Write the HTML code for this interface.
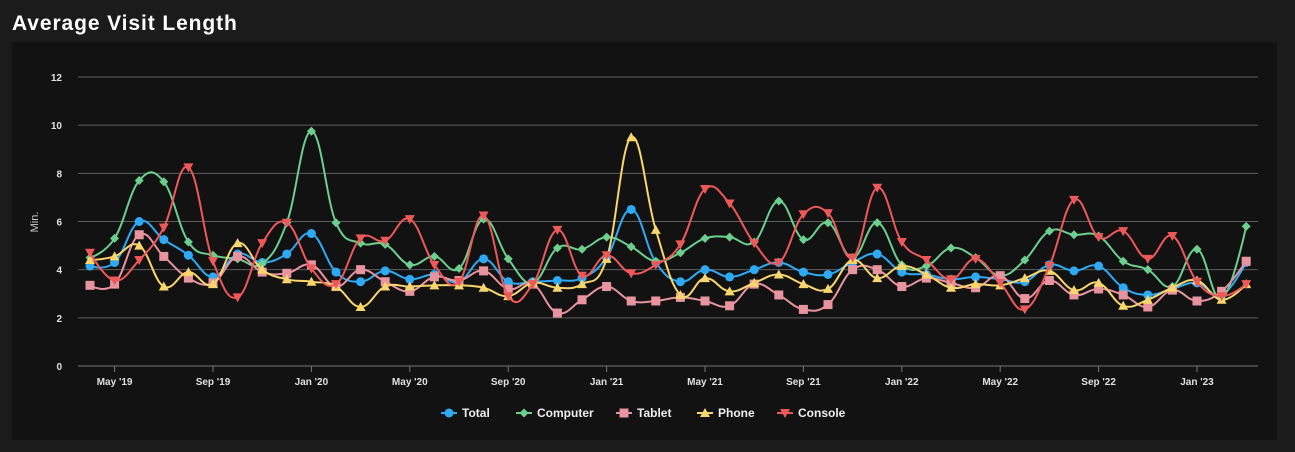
<!DOCTYPE html>
<html><head><meta charset="utf-8"><style>
body{margin:0;background:#1b1b1b;width:1295px;height:452px;overflow:hidden;font-family:"Liberation Sans",sans-serif}
h1{position:absolute;left:12px;top:12px;margin:0;color:#fff;font-size:21px;font-weight:bold;letter-spacing:0.9px}
#panel{position:absolute;left:12px;top:42px;width:1265px;height:398px;background:#121212}
svg{position:absolute;left:0;top:0}
</style></head><body>
<h1>Average Visit Length</h1>
<div id="panel"></div>
<svg id="chart" width="1295" height="452"></svg>
<script>
const months=['Apr 19','May 19','Jun 19','Jul 19','Aug 19','Sep 19','Oct 19','Nov 19','Dec 19','Jan 20','Feb 20','Mar 20','Apr 20','May 20','Jun 20','Jul 20','Aug 20','Sep 20','Oct 20','Nov 20','Dec 20','Jan 21','Feb 21','Mar 21','Apr 21','May 21','Jun 21','Jul 21','Aug 21','Sep 21','Oct 21','Nov 21','Dec 21','Jan 22','Feb 22','Mar 22','Apr 22','May 22','Jun 22','Jul 22','Aug 22','Sep 22','Oct 22','Nov 22','Dec 22','Jan 23','Feb 23','Mar 23'];
const xTickLabels=["May '19","Sep '19","Jan '20","May '20","Sep '20","Jan '21","May '21","Sep '21","Jan '22","May '22","Sep '22","Jan '23"];
const xTickIdx=[1,5,9,13,17,21,25,29,33,37,41,45];
const yTicks=[0,2,4,6,8,10,12];
const total=[4.15,4.3,6.0,5.25,4.6,3.7,4.65,4.3,4.65,5.5,3.9,3.5,3.95,3.6,3.8,3.5,4.45,3.5,3.5,3.55,3.65,4.5,6.5,4.3,3.5,4.0,3.7,4.0,4.3,3.9,3.8,4.3,4.65,3.9,3.8,3.6,3.7,3.6,3.5,4.2,3.95,4.15,3.25,2.95,3.2,3.45,2.95,4.3];
const computer=[4.5,5.3,7.7,7.65,5.15,4.6,4.45,4.25,5.95,9.75,5.95,5.1,5.05,4.2,4.55,4.05,6.1,4.45,3.45,4.9,4.85,5.35,4.95,4.35,4.7,5.3,5.35,5.15,6.85,5.25,5.95,4.5,5.95,4.2,4.15,4.9,4.5,3.75,4.4,5.6,5.45,5.4,4.35,4.0,3.3,4.85,2.8,5.8];
const tablet=[3.35,3.4,5.45,4.55,3.65,3.45,4.55,3.9,3.85,4.2,3.3,4.0,3.5,3.1,3.7,3.55,3.95,3.2,3.4,2.2,2.75,3.3,2.7,2.7,2.85,2.7,2.5,3.4,2.95,2.35,2.55,4.0,4.0,3.3,3.65,3.45,3.25,3.75,2.8,3.55,2.95,3.2,2.95,2.45,3.15,2.7,3.1,4.35];
const phone=[4.4,4.55,5.0,3.3,3.9,3.4,5.1,4.0,3.6,3.5,3.3,2.45,3.3,3.3,3.35,3.35,3.25,2.9,3.45,3.25,3.4,4.45,9.5,5.65,2.95,3.65,3.1,3.45,3.8,3.4,3.2,4.4,3.65,4.15,3.8,3.25,3.4,3.35,3.65,3.95,3.15,3.45,2.5,2.75,3.25,3.55,2.75,3.4];
const consoleS=[4.7,3.55,4.4,5.75,8.25,4.35,2.85,5.1,5.95,4.05,3.4,5.3,5.2,6.1,4.2,3.5,6.25,2.9,3.4,5.65,3.75,4.6,3.85,4.2,5.05,7.35,6.75,5.1,4.3,6.3,6.35,4.5,7.4,5.15,4.4,3.6,4.45,3.45,2.35,4.15,6.9,5.35,5.6,4.45,5.4,3.5,2.9,3.4];

const NS='http://www.w3.org/2000/svg';
const svg=document.getElementById('chart');
const X0=90,DX=24.6,Y0=366,YMAX=12,YTOP=77;
const xs=i=>X0+i*DX;
const ys=v=>Y0-(v/YMAX)*(Y0-YTOP);
function mk(tag,attrs,parent){const e=document.createElementNS(NS,tag);for(const k in attrs)e.setAttribute(k,attrs[k]);(parent||svg).appendChild(e);return e;}

yTicks.forEach(t=>{
  const l=mk('line',{x1:78,x2:1258,y1:ys(t),y2:ys(t),stroke:t===0?'#777':'#5e5e5e','stroke-width':1});
  
  
  const tx=mk('text',{x:62,y:ys(t)+4,'text-anchor':'end',fill:'#e0e0e0','font-size':10,'font-weight':600});
  tx.textContent=t;
  
  
});
xTickIdx.forEach((idx,k)=>{
  const tk=mk('line',{x1:xs(idx),x2:xs(idx),y1:366,y2:372,stroke:'#777'});
  
  
  const tx=mk('text',{x:xs(idx),y:385,'text-anchor':'middle',fill:'#e0e0e0','font-size':10,'font-weight':600});
  tx.textContent=xTickLabels[k];
  
  
});
const yt=mk('text',{x:38,y:222,'text-anchor':'middle',fill:'#ccc','font-size':11,transform:'rotate(-90 38 222)'});
yt.textContent='Min.';



function spline(pts){
  const sm=1.5,d=sm+1;let p='M'+pts[0][0]+' '+pts[0][1];
  const ctrl=[];
  for(let i=0;i<pts.length;i++){
    if(i===0||i===pts.length-1){ctrl.push(null);continue;}
    const [px,py]=pts[i-1],[x,y]=pts[i],[nx,ny]=pts[i+1];
    let lx=(sm*x+px)/d,ly=(sm*y+py)/d,rx=(sm*x+nx)/d,ry=(sm*y+ny)/d;
    if(rx!==lx){const c=(ry-ly)*(rx-x)/(rx-lx)+y-ry;ly+=c;ry+=c;}
    ctrl.push([lx,ly,rx,ry]);
  }
  for(let i=1;i<pts.length;i++){
    const a=ctrl[i-1],b=ctrl[i];
    const c1=a?[a[2],a[3]]:pts[i-1],c2=b?[b[0],b[1]]:pts[i];
    p+=` C${c1[0]} ${c1[1]} ${c2[0]} ${c2[1]} ${pts[i][0]} ${pts[i][1]}`;
  }
  return p;
}
function marker(shape,x,y,col,g){
  if(shape==='circle')return mk('circle',{cx:x,cy:y,r:4.5,fill:col},g);
  if(shape==='square')return mk('rect',{x:x-4.5,y:y-4.5,width:9,height:9,fill:col},g);
  if(shape==='diamond')return mk('path',{d:`M${x} ${y-4.5}L${x+4.5} ${y}L${x} ${y+4.5}L${x-4.5} ${y}Z`,fill:col},g);
  if(shape==='triangle')return mk('path',{d:`M${x} ${y-5}L${x+5} ${y+4}L${x-5} ${y+4}Z`,fill:col},g);
  return mk('path',{d:`M${x-5} ${y-4}L${x+5} ${y-4}L${x} ${y+5}Z`,fill:col},g);
}
const series=[
  {name:'Total',data:total,col:'#2eaaf5',shape:'circle',id:'total'},
  {name:'Computer',data:computer,col:'#6ccf8e',shape:'diamond',id:'computer'},
  {name:'Tablet',data:tablet,col:'#e8949f',shape:'square',id:'tablet'},
  {name:'Phone',data:phone,col:'#f8d66d',shape:'triangle',id:'phone'},
  {name:'Console',data:consoleS,col:'#ee5858',shape:'triangle-down',id:'console'}
];
series.forEach(s=>{
  const g=mk('g',{});
  
  
  const pts=s.data.map((v,i)=>[xs(i),ys(v)]);
  const ln=mk('path',{d:spline(pts),fill:'none',stroke:s.col,'stroke-width':2},g);
  
  
  pts.forEach(p=>{
    const m=marker(s.shape,p[0],p[1],s.col,g);
    
    
  });
});
const legX=[449,524,624,705,785];
series.forEach((s,k)=>{
  const g=mk('g',{});
  
  
  mk('line',{x1:legX[k]-8,x2:legX[k]+8,y1:413,y2:413,stroke:s.col,'stroke-width':2},g);
  marker(s.shape,legX[k],413,s.col,g);
  const t=mk('text',{x:legX[k]+13,y:417,fill:'#eee','font-size':12,'font-weight':'bold'},g);
  t.textContent=s.name;
});
</script>
</body></html>
